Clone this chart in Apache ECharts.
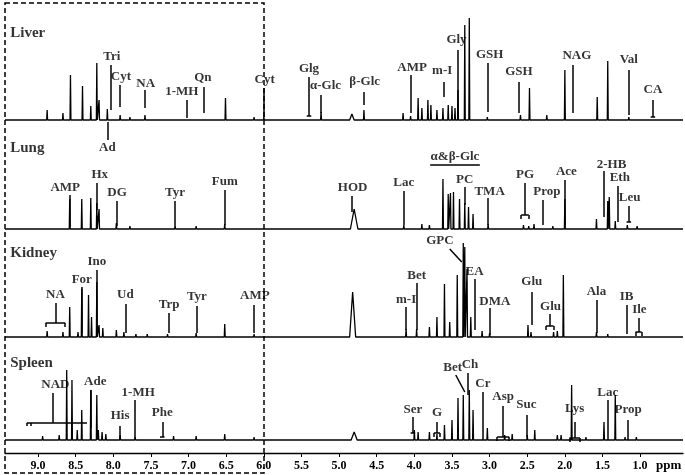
<!DOCTYPE html>
<html>
<head>
<meta charset="utf-8">
<script src="https://cdn.jsdelivr.net/npm/echarts@6/dist/echarts.min.js"></script>
<style>html,body{margin:0;padding:0;background:#fff}#main{width:685px;height:475px}</style>
</head>
<body>
<div id="main"></div>
<script>
// tick labels on the ppm axis
const ppmTicks = [9.0, 8.5, 8.0, 7.5, 7.0, 6.5, 6.0, 5.5, 5.0, 4.5, 4.0, 3.5, 3.0, 2.5, 2.0, 1.5, 1.0];

// organ traces: baseline and peaks [ppm, height, halfwidth?]
const organs = ['Liver', 'Lung', 'Kidney', 'Spleen'];
const baselines = [333, 224, 116, 13];
const organLabelY = [420, 305, 200, 90];

const liverPeaks = [[8.88,10],[8.67,7],[8.57,45],[8.41,34],[8.30,14],[8.22,57],[8.19,20],[8.08,11],[7.91,5],[7.78,3],
  [7.58,5],[7.35,2],[7.03,2],[6.80,2],[6.51,22],[6.13,3],[6.00,3],[5.40,2],[5.24,8],[4.83,6,0.03],[4.67,10],[4.15,7],
  [4.05,4],[3.95,22],[3.90,12],[3.82,20],[3.78,15],[3.70,10],[3.62,12],[3.55,15],[3.50,14],[3.46,12],[3.42,30],
  [3.33,95],[3.27,102],[3.03,3],[2.59,5],[2.47,32],[2.24,5],[2.00,50],[1.57,23],[1.43,59],[1.15,3]];
const lungPeaks = [[8.58,30],[8.42,30],[8.30,31],[8.22,26],[8.19,20],[7.96,6],[7.78,3],[7.18,4],[6.90,3],[6.52,5],
  [4.80,20,0.05],[4.14,4],[3.90,5],[3.80,4],[3.62,50],[3.55,35],[3.52,36],[3.48,37],[3.40,30],[3.33,26],[3.28,22],
  [3.22,15],[3.02,5],[2.55,4],[2.48,3],[2.41,5],[2.16,3],[2.00,30],[1.58,10],[1.43,28],[1.41,32],[1.33,8],[1.17,4],[1.04,3]];
const kidneyPeaks = [[8.88,6],[8.67,5],[8.58,30],[8.47,5],[8.42,48],[8.33,42],[8.29,20],[8.22,55],[8.19,12],[8.14,9],
  [7.96,7],[7.86,5],[7.70,3],[7.55,3],[7.28,3],[6.90,4],[6.52,13],[6.13,3],[4.82,45,0.04],[4.11,8],[3.97,8],[3.80,10],
  [3.70,20],[3.60,53],[3.53,15],[3.43,62],[3.35,94],[3.33,90],[3.30,68],[3.25,20],[3.10,6],[3.00,4],[2.49,12],[2.45,5],
  [2.15,5],[2.10,6],[2.02,62],[1.58,5],[1.43,3]];
const spleenPeaks = [[8.94,4],[8.72,5],[8.62,70],[8.55,60],[8.48,10],[8.42,30],[8.30,50],[8.22,45],[8.20,10],[8.15,8],[8.10,6],
  [7.91,5],[7.71,3],[7.35,2],[7.20,4],[6.90,4],[6.52,6],[6.13,3],[4.80,8,0.04],[4.00,10],[3.95,8],[3.80,8],[3.70,6],
  [3.60,15],[3.50,20],[3.42,42],[3.35,45],[3.27,50],[3.22,30],[3.03,12],[2.80,5],[2.70,6],[2.50,5],[2.40,10],[2.10,5],
  [2.05,5],[1.91,55],[1.72,3],[1.48,18],[1.33,45],[1.20,3],[1.05,3]];
const allPeaks = [liverPeaks, lungPeaks, kidneyPeaks, spleenPeaks];

// annotation texts [name, ppm, y]
const annoLabels = [
  ['Tri',8.02,396],['Cyt',7.90,376],['NA',7.57,369],['1-MH',7.09,361],['Qn',6.81,375],['Cyt',5.99,373],['Glg',5.40,384],
  ['α-Glc',5.18,367],['β-Glc',4.66,371],['AMP',4.03,385],['m-I',3.63,382],['Gly',3.44,413],['GSH',3.00,398],['GSH',2.61,381],
  ['NAG',1.84,397],['Val',1.15,393],['CA',0.83,363],['Ad',8.08,305],
  ['AMP',8.64,265],['Hx',8.18,278],['DG',7.95,260],['Tyr',7.18,260],['Fum',6.52,271],['HOD',4.82,265],['Lac',4.14,270],
  ['α&β-Glc',3.46,296],['PC',3.33,273],['TMA',3.00,261],['PG',2.53,278],['Prop',2.24,261],['Ace',1.98,281],['2-HB',1.38,288],
  ['Eth',1.27,275],['Leu',1.14,255],
  ['NA',8.77,158],['For',8.42,173],['Ino',8.22,191],['Ud',7.84,158],['Trp',7.26,148],['Tyr',6.89,156],['AMP',6.12,157],
  ['m-I',4.11,153],['Bet',3.97,177],['GPC',3.66,212],['EA',3.20,181],['DMA',2.93,151],['Glu',2.44,171],['Glu',2.19,146],
  ['Ala',1.58,161],['IB',1.18,156],['Ile',1.01,143],
  ['NAD',8.77,68],['Ade',8.24,71],['1-MH',7.67,60],['His',7.91,37],['Phe',7.35,40],['Ser',4.02,43],['G',3.70,40],
  ['Bet',3.49,85],['Ch',3.26,88],['Cr',3.09,69],['Asp',2.82,56],['Suc',2.51,48],['Lys',1.87,44],['Lac',1.43,60],['Prop',1.16,43]
];
// annotation stems [ppm1, y1, ppm2, y2]
const annoStems = [
  [8.03,388,8.03,343],[7.91,368,7.91,346],[7.58,363,7.58,345],[7.03,353,7.03,335],[6.80,366,6.80,340],[6.00,365,6.00,336],
  [5.40,376,5.40,337],[5.24,358,5.24,340],[4.67,361,4.67,348],[4.05,378,4.05,340],[3.61,371,3.61,356],[3.42,403,3.42,343],
  [3.02,390,3.02,341],[2.61,371,2.61,340],[1.89,388,1.89,340],[1.15,383,1.15,338],[0.83,353,0.83,336],[8.08,331,8.08,313],
  [8.58,258,8.58,226],[8.22,270,8.22,243],[7.96,252,7.96,227],[7.18,252,7.18,228],[6.52,263,6.52,228],[4.83,257,4.83,241],
  [4.14,262,4.14,228],[3.79,288,3.13,288],[3.33,266,3.33,248],[3.02,255,3.02,228],[2.53,270,2.53,238],[2.29,253,2.29,228],
  [2.00,273,2.00,228],[1.48,282,1.48,236],[1.30,267,1.30,231],[1.15,247,1.15,231],
  [8.77,150,8.77,130],[8.42,166,8.42,120],[8.22,183,8.22,123],[7.84,149,7.84,120],[7.26,140,7.26,120],[6.89,147,6.89,120],
  [6.13,148,6.13,120],[4.11,146,4.11,123],[3.97,170,3.97,123],[3.53,204,3.37,191],[3.20,174,3.20,123],[3.00,145,3.00,118],
  [2.44,161,2.44,128],[2.20,139,2.20,127],[1.58,153,1.58,120],[1.18,148,1.18,119],[1.02,135,1.02,121],
  [8.81,60,8.81,30],[9.15,30,8.35,30],[9.15,30,9.15,27],[9.10,30,9.10,27],[8.30,63,8.30,25],[7.71,53,7.71,13],
  [7.91,27,7.91,13],[7.35,31,7.35,16],[4.02,36,4.02,20],[3.70,31,3.70,20],[3.45,78,3.33,61],[3.29,80,3.29,58],
  [3.09,61,3.09,13],[2.82,47,2.82,16],[2.51,38,2.51,16],[1.87,31,1.87,15],[1.43,53,1.43,13],[1.16,33,1.16,13]
];
// T-bars [ppm, y, halfwidth] and brackets [ppm, y, halfwidth]
const annoBars = [[5.40,337,0.03],[0.83,336,0.03],[1.15,231,0.03],[7.35,16,0.03],[4.02,20,0.03]];
const annoBrackets = [[2.53,238,0.05],[8.77,130,0.13],[2.20,127,0.05],[1.02,121,0.04],[3.70,20,0.04],[2.82,16,0.08],[1.87,15,0.07]];

const XMIN = 0.43, XMAX = 9.44;
const font = 'Liberation Serif, Times New Roman, serif';

function traceData(base, peaks) {
  const sorted = peaks.slice().sort((a, b) => b[0] - a[0]);
  const pts = [[XMAX, base]];
  sorted.forEach(p => {
    const w = p[2] || 0.006;
    pts.push([p[0] + w, base], [p[0], base + p[1]], [p[0] - w, base]);
  });
  pts.push([XMIN, base]);
  return pts;
}

const segs = annoStems.map(s => ({ coords: [[s[0], s[1]], [s[2], s[3]]] }));
annoBars.forEach(b => segs.push({ coords: [[b[0] + b[2], b[1]], [b[0] - b[2], b[1]]] }));
annoBrackets.forEach(b => {
  segs.push({ coords: [[b[0] + b[2], b[1]], [b[0] - b[2], b[1]]] });
  segs.push({ coords: [[b[0] + b[2], b[1]], [b[0] + b[2], b[1] - 4]] });
  segs.push({ coords: [[b[0] - b[2], b[1]], [b[0] - b[2], b[1] - 4]] });
});

const series = organs.map((o, i) => ({
  type: 'line', data: traceData(baselines[i], allPeaks[i]), showSymbol: false, silent: true,
  lineStyle: { color: '#000', width: 1.3 }, animation: false
}));
series.push({
  type: 'lines', coordinateSystem: 'cartesian2d', data: segs, silent: true, animation: false,
  lineStyle: { color: '#000', width: 1.5, opacity: 1 }
});
series.push({
  type: 'scatter', symbolSize: 0, silent: true, animation: false,
  data: annoLabels.map(a => ({ name: a[0], value: [a[1], a[2]] })),
  label: { show: true, position: 'inside', formatter: '{b}', color: '#000', fontFamily: font, fontWeight: 'bold', fontSize: 13 }
});
series.push({
  type: 'scatter', symbolSize: 0, silent: true, animation: false,
  data: organs.map((o, i) => ({ name: o, value: [9.37, organLabelY[i]] })),
  label: { show: true, position: 'right', distance: 0, formatter: '{b}', color: '#000', fontFamily: font, fontWeight: 'bold', fontSize: 15 }
});

const chart = echarts.init(document.getElementById('main'));
chart.setOption({
  backgroundColor: '#fff',
  animation: false,
  grid: { left: 5, right: 2, top: 0, bottom: 22 },
  xAxis: {
    type: 'value', inverse: true, min: XMIN, max: XMAX, splitLine: { show: false },
    axisLine: { lineStyle: { color: '#000', width: 1.4 } },
    axisTick: { customValues: ppmTicks, length: 4, inside: false, lineStyle: { color: '#000' } },
    axisLabel: { customValues: ppmTicks, formatter: v => v.toFixed(1), color: '#000', fontFamily: font, fontWeight: 'bold', fontSize: 12, margin: 7 }
  },
  yAxis: { type: 'value', min: 0, max: 453, show: false },
  series: series,
  graphic: [
    { type: 'rect', shape: { x: 5, y: 3, width: 259, height: 470 }, style: { fill: 'none', stroke: '#000', lineWidth: 1.5, lineDash: [5, 3] }, silent: true },
    { type: 'text', left: 656, top: 459, style: { text: 'ppm', font: 'bold 13px ' + font, fill: '#000' } }
  ]
});
</script>
</body>
</html>
